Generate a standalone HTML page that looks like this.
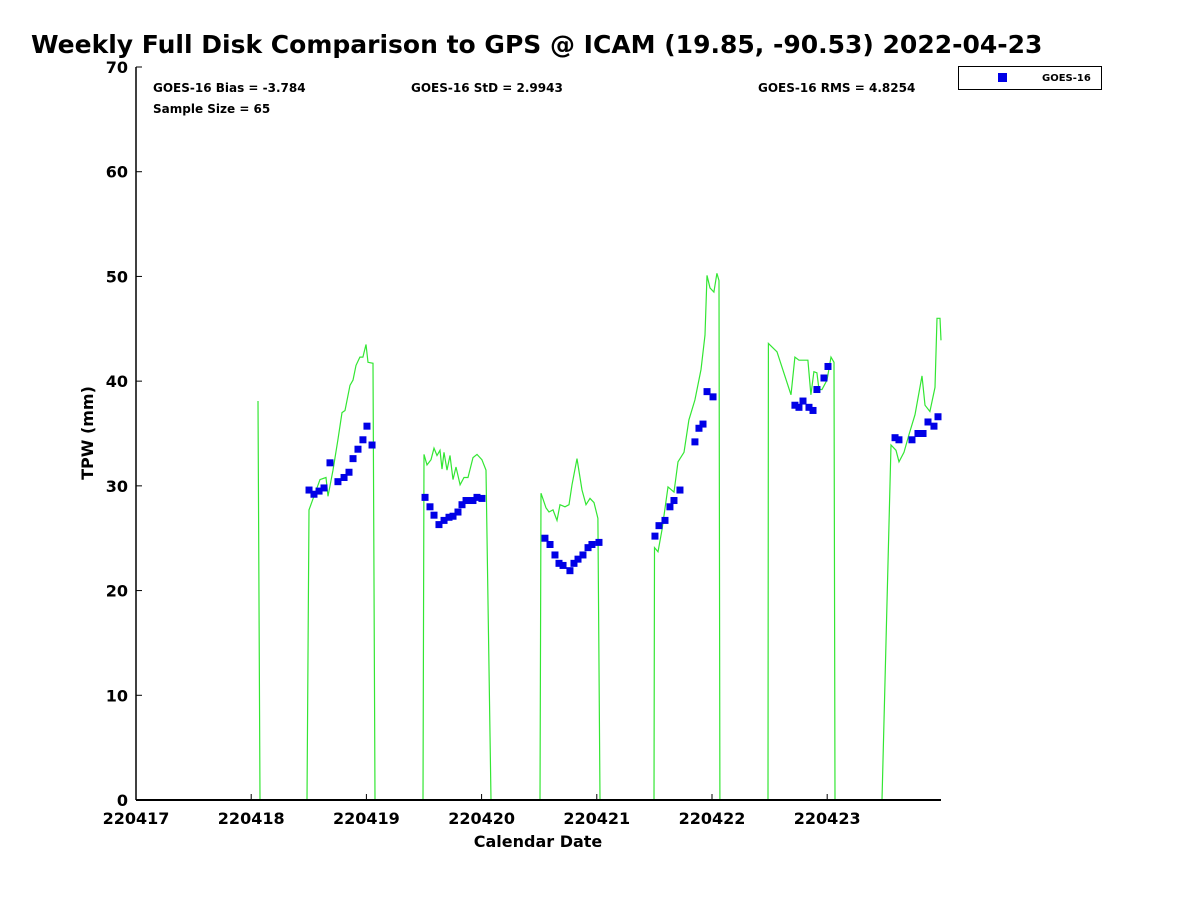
<!DOCTYPE html>
<html><head><meta charset="utf-8"><style>
body{margin:0;background:#fff}
svg text{font-family:"DejaVu Sans","Liberation Sans",sans-serif;font-weight:bold;fill:#000}
</style></head><body>
<svg width="1200" height="900" xmlns="http://www.w3.org/2000/svg">
<text x="31" y="53" font-size="25">Weekly Full Disk Comparison to GPS @ ICAM (19.85, -90.53) 2022-04-23</text>
<g id="marks"></g>
<g id="axes"></g>
<text x="153" y="92" font-size="12">GOES-16 Bias = -3.784</text>
<text x="153" y="113" font-size="12">Sample Size = 65</text>
<text x="411" y="92" font-size="12">GOES-16 StD = 2.9943</text>
<text x="758" y="92" font-size="12">GOES-16 RMS = 4.8254</text>
<g>
<rect x="958.5" y="66.5" width="143" height="23" fill="#fff" stroke="#000" stroke-width="1"/>
<rect x="998" y="73" width="9" height="9" fill="#0000e6"/>
<text x="1042" y="81" font-size="10">GOES-16</text>
</g>
<text x="538" y="847" font-size="16" text-anchor="middle">Calendar Date</text>
<text transform="translate(93,433) rotate(-90)" font-size="16" text-anchor="middle">TPW (mm)</text>
</svg>
<script>
const xTickLabels=["220417","220418","220419","220420","220421","220422","220423"];
const yTicks=[0,10,20,30,40,50,60,70];
const gpsDays=[1.059,1.076,1.484,1.502,1.597,1.649,1.667,1.710,1.753,1.788,1.814,1.858,1.884,1.910,1.944,1.970,1.997,2.014,2.057,2.075,
2.491,2.500,2.526,2.561,2.587,2.613,2.639,2.656,2.674,2.700,2.726,2.752,2.778,2.813,2.847,2.882,2.925,2.960,3.003,3.038,3.082,
3.507,3.516,3.559,3.585,3.620,3.655,3.681,3.724,3.759,3.785,3.828,3.872,3.906,3.941,3.976,4.010,4.028,
4.497,4.501,4.531,4.566,4.618,4.670,4.705,4.757,4.800,4.852,4.905,4.939,4.957,4.983,5.017,5.043,5.061,5.069,
5.486,5.490,5.564,5.686,5.720,5.755,5.833,5.859,5.885,5.911,5.929,5.955,5.998,6.033,6.059,6.068,
6.476,6.554,6.597,6.623,6.667,6.710,6.762,6.823,6.849,6.892,6.936,6.953,6.979,6.988];
const gpsValues=[38.1,0,0,27.7,30.6,30.8,29.0,31.5,34.4,37.0,37.2,39.6,40.1,41.5,42.3,42.3,43.5,41.8,41.7,0,
0,33.0,32.0,32.5,33.6,32.9,33.4,31.6,33.2,31.5,32.9,30.6,31.8,30.1,30.8,30.8,32.7,33.0,32.5,31.5,0,
0,29.3,27.9,27.5,27.7,26.7,28.2,28.0,28.2,30.1,32.6,29.6,28.2,28.8,28.4,26.9,0,
0,24.1,23.7,25.8,29.9,29.4,32.3,33.2,36.3,38.2,41.1,44.4,50.1,48.9,48.5,50.3,49.6,0,
0,43.6,42.8,38.7,42.3,42.0,42.0,38.7,40.9,40.8,39.2,39.2,40.1,42.3,41.8,0,
0,33.9,33.4,32.3,33.2,34.9,36.8,40.5,37.7,37.1,39.4,46.0,46.0,43.9];
const goesDays=[1.502,1.545,1.589,1.632,1.684,1.753,1.806,1.849,1.884,1.927,1.970,2.005,2.049,
2.509,2.552,2.587,2.630,2.674,2.717,2.752,2.795,2.830,2.865,2.925,2.960,3.003,
3.550,3.594,3.637,3.672,3.707,3.767,3.802,3.837,3.880,3.924,3.958,4.019,
4.505,4.540,4.592,4.635,4.670,4.722,4.852,4.887,4.922,4.957,5.009,
5.720,5.755,5.790,5.842,5.877,5.911,5.972,6.007,
6.589,6.623,6.736,6.788,6.832,6.875,6.927,6.962];
const goesValues=[29.6,29.2,29.5,29.8,32.2,30.4,30.8,31.3,32.6,33.5,34.4,35.7,33.9,
28.9,28.0,27.2,26.3,26.7,27.0,27.1,27.5,28.2,28.6,28.6,28.9,28.8,
25.0,24.4,23.4,22.6,22.4,21.9,22.6,23.0,23.4,24.1,24.4,24.6,
25.2,26.2,26.7,28.0,28.6,29.6,34.2,35.5,35.9,39.0,38.5,
37.7,37.5,38.1,37.5,37.2,39.2,40.3,41.4,
34.6,34.4,34.4,35.0,35.0,36.1,35.7,36.6];
const X0=136,X1=941,Y0=800,Y1=67,DMAX=6.988,VMAX=70;
const xs=d=>X0+d*(X1-X0)/DMAX, ys=v=>Y0-v*(Y0-Y1)/VMAX;
const NS="http://www.w3.org/2000/svg";
function mk(t,a,p){const e=document.createElementNS(NS,t);for(const k in a)e.setAttribute(k,a[k]);p.appendChild(e);return e;}
const ax=document.getElementById('axes'),mg=document.getElementById('marks');
const pts=gpsDays.map((d,i)=>xs(d).toFixed(1)+','+ys(gpsValues[i]).toFixed(1)).join(' ');
const pl=mk('polyline',{points:pts,fill:'none',stroke:'#33e633','stroke-width':1.2},mg);


goesDays.forEach((d,i)=>{
 const r=mk('rect',{x:xs(d)-3.5,y:ys(goesValues[i])-3.5,width:7,height:7,fill:'#0000e6'},mg);
 
 
});
const yl=mk('line',{x1:X0,y1:Y0,x2:X0,y2:Y1,stroke:'#000','stroke-width':1.5},ax);


const xl=mk('line',{x1:X0,y1:Y0,x2:X1,y2:Y0,stroke:'#000','stroke-width':2},ax);


yTicks.forEach(v=>{
 mk('line',{x1:X0,y1:ys(v),x2:X0+6,y2:ys(v),stroke:'#000'},ax);
 const t=mk('text',{x:X0-8,y:ys(v)+6,'font-size':16,'text-anchor':'end'},ax);t.textContent=v;
 
 
});
xTickLabels.forEach((l,i)=>{
 mk('line',{x1:xs(i),y1:Y0,x2:xs(i),y2:Y0-6,stroke:'#000'},ax);
 const t=mk('text',{x:xs(i),y:Y0+24,'font-size':16,'text-anchor':'middle'},ax);t.textContent=l;
 
 
});
</script>
</body></html>
